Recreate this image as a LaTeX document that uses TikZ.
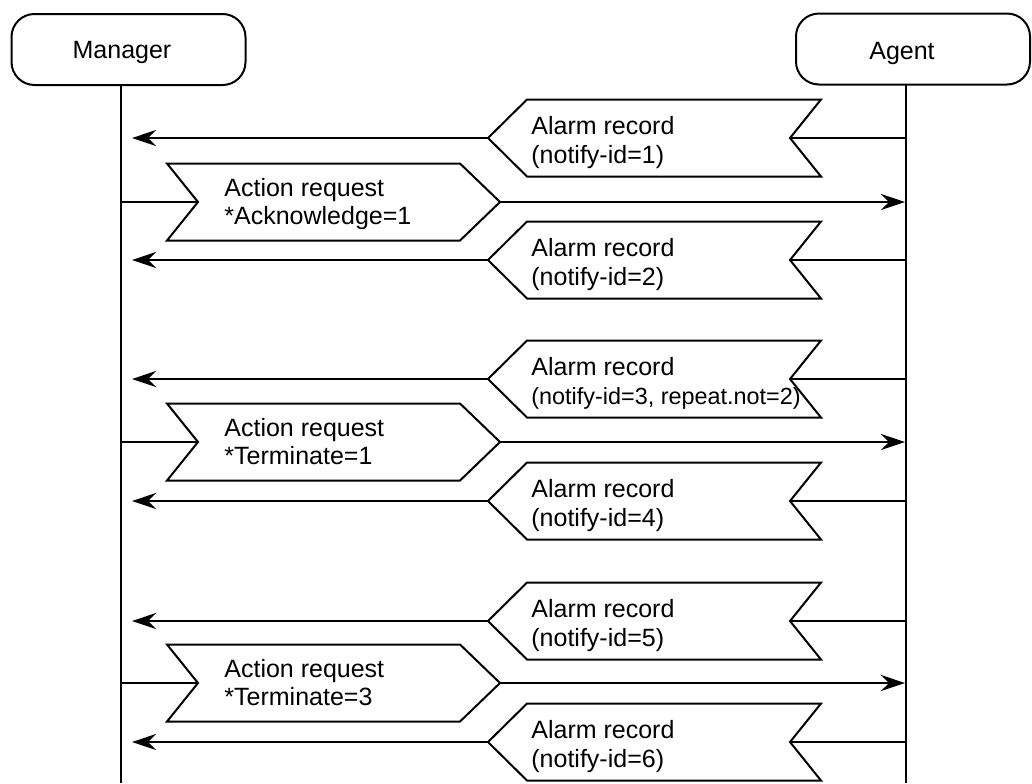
\documentclass[tikz,border=0pt]{standalone}
\usepackage{fontspec}
\setmainfont{Liberation Sans}
\usetikzlibrary{arrows.meta}

% Alarm record sent from the agent to the manager:
% #1 name, #2 row, #3 first line, #4 second line
\newcommand\alarmrec[4]{%
  \draw[msgshape] (527,#2-38.5) -- (821,#2-38.5) -- (790,#2) -- (821,#2+38.5)
    -- (527,#2+38.5) -- (488,#2) -- cycle;
  \coordinate (#1n) at (790,#2);
  \coordinate (#1p) at (488,#2);
  \coordinate (#1s) at (906,#2);
  \coordinate (#1e) at (132,#2);
  \node[lbl] (#1a) at (531,#2-4) {#3};
  \node[lbl] (#1b) at (531,#2+25) {#4};
  \draw[line] (#1s) -- (#1n);
  \draw[line,msgarrow] (#1p) -- (#1e);
}

% Action request sent from the manager to the agent
\newcommand\actreq[4]{%
  \draw[msgshape] (167,#2-38.5) -- (460,#2-38.5) -- (500,#2) -- (460,#2+38.5)
    -- (167,#2+38.5) -- (198,#2) -- cycle;
  \coordinate (#1n) at (198,#2);
  \coordinate (#1p) at (500,#2);
  \coordinate (#1s) at (120.5,#2);
  \coordinate (#1e) at (905,#2);
  \node[lbl] (#1a) at (224,#2-6) {#3};
  \node[lbl] (#1b) at (224,#2+22) {#4};
  \draw[line] (#1s) -- (#1n);
  \draw[line,msgarrow] (#1p) -- (#1e);
}

\begin{document}
\begin{tikzpicture}[x=0.5pt,y=-0.5pt,
  line/.style={line width=1pt},
  msgshape/.style={draw,line width=1pt,fill=white,line join=miter},
  head/.style={draw,line width=1pt,rounded corners=11.5pt,
    minimum width=117pt,minimum height=35.5pt,inner sep=0pt},
  headtxt/.style={inner sep=0pt,font=\fontsize{12.5}{15}\selectfont},
  lbl/.style={anchor=base west,inner sep=0pt,font=\fontsize{12.5}{15}\selectfont},
  msgarrow/.style={-{Stealth[length=12pt,width=8pt,inset=4pt]}}
]
\useasboundingbox (0,0) rectangle (1032,783);

% participants
\node[head] (mgr) at (128.5,49.5) {};
\node[headtxt] (mgrtxt) at (122,52) {Manager};
\node[head] (agt) at (913,49) {};
\node[headtxt] (agttxt) at (902,53) {Agent};

% lifelines
\coordinate (mgrtop) at (120.5,85);
\coordinate (mgrbot) at (120.5,783);
\coordinate (agttop) at (906,84);
\coordinate (agtbot) at (906,783);
\draw[line] (mgrtop) -- (mgrbot);
\draw[line] (agttop) -- (agtbot);

% messages
\alarmrec{a1}{138}{Alarm record}{(notify-id=1)}
\actreq{r1}{202}{Action request}{*Acknowledge=1}
\alarmrec{a2}{260}{Alarm record}{(notify-id=2)}

\alarmrec{a3}{379}{Alarm record}{\fontsize{11.7}{14}\selectfont(notify-id=3, repeat.not=2)}
\actreq{r2}{442}{Action request}{*Terminate=1}
\alarmrec{a4}{501}{Alarm record}{(notify-id=4)}

\alarmrec{a5}{621}{Alarm record}{(notify-id=5)}
\actreq{r3}{683}{Action request}{*Terminate=3}
\alarmrec{a6}{742}{Alarm record}{(notify-id=6)}
\end{tikzpicture}
\end{document}
